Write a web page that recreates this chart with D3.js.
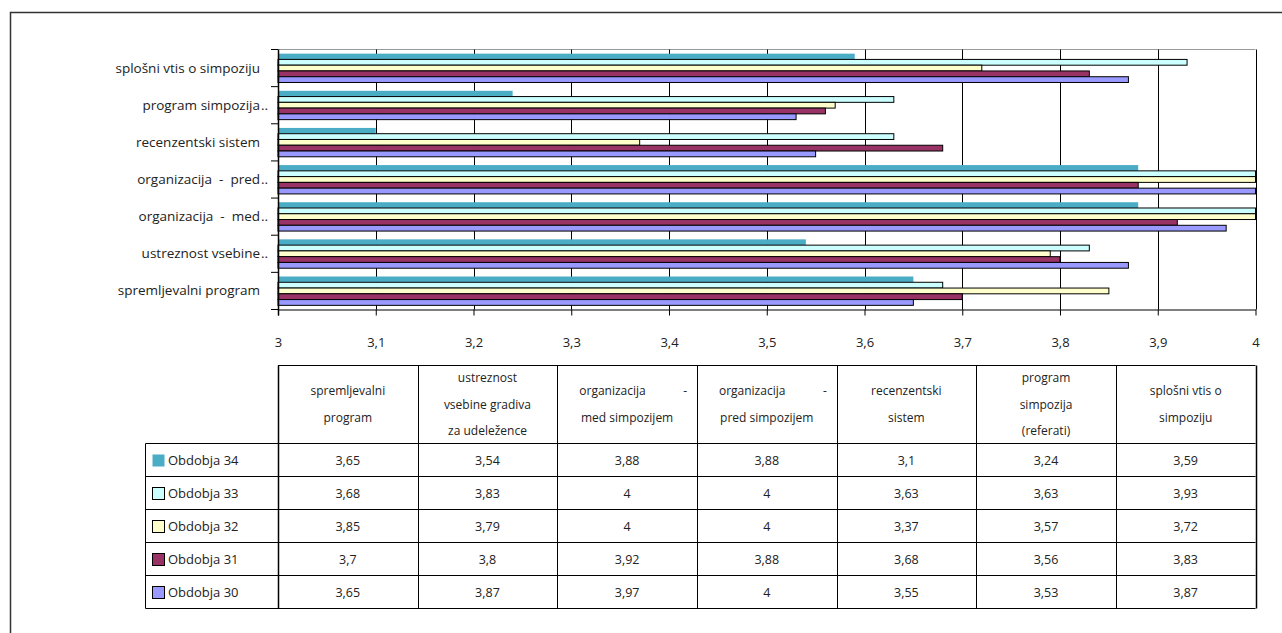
<!DOCTYPE html>
<html>
<head>
<meta charset="utf-8">
<script src="https://cdn.jsdelivr.net/npm/d3@7"></script>
<style>
  body { margin: 0; background: #fff; }
  svg { display: block; font-family: "Open Sans", sans-serif; }
</style>
</head>
<body>
<div id="svg-container"></div>
<script>
// categories in table order (bottom to top in the chart)
const categories = [
  "spremljevalni program",
  "ustreznost vsebine gradiva za udeležence",
  "organizacija - med simpozijem",
  "organizacija - pred simpozijem",
  "recenzentski sistem",
  "program simpozija (referati)",
  "splošni vtis o simpoziju",
];
// short labels on the category axis (text, truncated?)
const axisLabels = [
  ["spremljevalni program", false],
  ["ustreznost vsebine", true],
  ["organizacija  -  med", true],
  ["organizacija  -  pred", true],
  ["recenzentski sistem", false],
  ["program simpozija", true],
  ["splošni vtis o simpoziju", false],
];
// table header lines
const headerLines = [
  ["spremljevalni", "program"],
  ["ustreznost", "vsebine gradiva", "za udeležence"],
  ["organizacija|-", "med simpozijem"],
  ["organizacija|-", "pred simpozijem"],
  ["recenzentski", "sistem"],
  ["program", "simpozija", "(referati)"],
  ["splošni vtis o", "simpoziju"],
];

const seriesNames = ["Obdobja 34", "Obdobja 33", "Obdobja 32", "Obdobja 31", "Obdobja 30"];
const obdobja34 = [3.65, 3.54, 3.88, 3.88, 3.1, 3.24, 3.59];
const obdobja33 = [3.68, 3.83, 4, 4, 3.63, 3.63, 3.93];
const obdobja32 = [3.85, 3.79, 4, 4, 3.37, 3.57, 3.72];
const obdobja31 = [3.7, 3.8, 3.92, 3.88, 3.68, 3.56, 3.83];
const obdobja30 = [3.65, 3.87, 3.97, 4, 3.55, 3.53, 3.87];
const xTicks = [3, 3.1, 3.2, 3.3, 3.4, 3.5, 3.6, 3.7, 3.8, 3.9, 4];

const seriesValues = [obdobja34, obdobja33, obdobja32, obdobja31, obdobja30];
const colors = ["#4bacc6", "#ccffff", "#ffffcc", "#993366", "#9999ff"];
const strokes = ["none", "#000", "#000", "#000", "#000"];

const fmt = (v) => String(v).replace(".", ",");

const width = 1282;
const height = 633;
const plot = { left: 278, right: 1255.5, top: 49.5, bottom: 309.5 };

const svg = d3
  .select("#svg-container")
  .append("svg")
  .attr("width", width)
  .attr("height", height);

// outer frame
svg
  .append("rect")
  .attr("x", 10.5)
  .attr("y", 12.5)
  .attr("width", 1400)
  .attr("height", 800)
  .attr("fill", "none")
  .attr("stroke", "#333")
  .attr("stroke-width", 1.5);

const xScale = d3.scaleLinear().domain([3, 4]).range([plot.left, plot.right]);

// top-to-bottom order is the reverse of the table order
const yScale = d3
  .scaleBand()
  .domain(d3.range(categories.length).reverse())
  .range([plot.top, plot.bottom]);

const inner = d3
  .scaleBand()
  .domain(d3.range(seriesNames.length))
  .range([0, yScale.bandwidth()])
  .paddingOuter(0.72);

// plot top border
svg
  .append("line")
  .attr("x1", plot.left)
  .attr("x2", plot.right)
  .attr("y1", plot.top)
  .attr("y2", plot.top)
  .attr("stroke", "#999");

// gridlines
svg
  .append("g")
  .selectAll("line")
  .data(xTicks.slice(1))
  .join("line")
  .attr("x1", (d) => Math.round(xScale(d)) + 0.5)
  .attr("x2", (d) => Math.round(xScale(d)) + 0.5)
  .attr("y1", plot.top)
  .attr("y2", plot.bottom)
  .attr("stroke", "#000");

// bars
const rows = [];
seriesValues.forEach((vals, s) => {
  vals.forEach((v, c) => rows.push({ s, c, v }));
});

svg
  .append("g")
  .selectAll("rect")
  .data(rows)
  .join("rect")
  .attr("x", plot.left)
  .attr("y", (d) => yScale(d.c) + inner(d.s))
  .attr("width", (d) => xScale(d.v) - plot.left)
  .attr("height", inner.bandwidth())
  .attr("fill", (d) => colors[d.s])
  .attr("stroke", (d) => strokes[d.s])
  .attr("stroke-width", 1);

// x axis
const xAxis = d3
  .axisBottom(xScale)
  .tickValues(xTicks)
  .tickFormat(fmt)
  .tickSize(6)
  .tickSizeOuter(0)
  .tickPadding(22);

svg
  .append("g")
  .attr("transform", `translate(0, ${plot.bottom})`)
  .call(xAxis)
  .call((g) => g.selectAll("line,path").attr("stroke", "#000"))
  .call((g) =>
    g.selectAll("text").attr("fill", "#222").style("font-size", "13px").attr("font-family", "Open Sans")
  );

// y axis with category ticks on band edges
const yAxisG = svg.append("g");
yAxisG
  .append("line")
  .attr("x1", plot.left + 0.5)
  .attr("x2", plot.left + 0.5)
  .attr("y1", plot.top)
  .attr("y2", plot.bottom + 6)
  .attr("stroke", "#000")
  .attr("stroke-width", 1.5);

yAxisG
  .selectAll(".cat-tick")
  .data(d3.range(categories.length + 1))
  .join("line")
  .attr("class", "cat-tick")
  .attr("x1", plot.left - 7)
  .attr("x2", plot.left)
  .attr("y1", (i) => plot.top + i * yScale.step())
  .attr("y2", (i) => plot.top + i * yScale.step())
  .attr("stroke", "#000");

const catLabel = yAxisG
  .selectAll(".cat-label")
  .data(axisLabels)
  .join("g")
  .attr("class", "cat-label")
  .attr("transform", (d, i) => `translate(260, ${yScale(i) + yScale.bandwidth() / 2 + 4.5})`);

catLabel
  .append("text")
  .attr("text-anchor", "end")
  .attr("fill", "#222")
  .style("font-size", "13.5px")
  .style("white-space", "pre")
  .text((d) => d[0]);

catLabel
  .filter((d) => d[1])
  .append("text")
  .attr("x", 1)
  .attr("fill", "#222")
  .style("font-size", "13.5px")
  .text("..");

// data table
const table = {
  left: 145.5,
  colLeft: plot.left,
  top: 365.5,
  headH: 78,
  rowH: 33,
};
const colW = (plot.right - plot.left) / categories.length;
const tableBottom = table.top + table.headH + table.rowH * seriesNames.length;

const tg = svg.append("g").attr("fill", "#222");

// horizontal lines
tg.append("line")
  .attr("x1", table.colLeft)
  .attr("x2", plot.right)
  .attr("y1", table.top)
  .attr("y2", table.top)
  .attr("stroke", "#000");

tg.selectAll(".hline")
  .data(d3.range(seriesNames.length + 1))
  .join("line")
  .attr("class", "hline")
  .attr("x1", table.left)
  .attr("x2", plot.right)
  .attr("y1", (i) => table.top + table.headH + i * table.rowH)
  .attr("y2", (i) => table.top + table.headH + i * table.rowH)
  .attr("stroke", "#000");

// vertical lines
tg.selectAll(".vline")
  .data(d3.range(categories.length + 1))
  .join("line")
  .attr("class", "vline")
  .attr("x1", (i) => Math.round(table.colLeft + i * colW) + 0.5)
  .attr("x2", (i) => Math.round(table.colLeft + i * colW) + 0.5)
  .attr("y1", table.top)
  .attr("y2", tableBottom)
  .attr("stroke", "#000")
  .attr("stroke-width", (i) => (i === 0 || i === categories.length ? 1.5 : 1));

tg.append("line")
  .attr("x1", table.left)
  .attr("x2", table.left)
  .attr("y1", table.top + table.headH)
  .attr("y2", tableBottom)
  .attr("stroke", "#000");

// header text
headerLines.forEach((lines, c) => {
  const x0 = table.colLeft + c * colW;
  const lh = 26.5;
  const cy = table.top + table.headH / 2;
  lines.forEach((ln, k) => {
    const y = cy + (k - (lines.length - 1) / 2) * lh + 4;
    if (ln.includes("|")) {
      const [a, b] = ln.split("|");
      tg.append("text").attr("x", x0 + 22).attr("y", y).style("font-size", "12px").text(a);
      tg.append("text").attr("x", x0 + 126).attr("y", y).style("font-size", "12px").text(b);
    } else {
      tg.append("text")
        .attr("x", x0 + colW / 2)
        .attr("y", y)
        .attr("text-anchor", "middle")
        .style("font-size", "12px")
        .text(ln);
    }
  });
});

// legend column and values
seriesNames.forEach((name, s) => {
  const y0 = table.top + table.headH + s * table.rowH;
  tg.append("rect")
    .attr("x", 152.5)
    .attr("y", y0 + 11)
    .attr("width", 12)
    .attr("height", 12)
    .attr("fill", colors[s])
    .attr("stroke", strokes[s]);
  tg.append("text")
    .attr("x", 168)
    .attr("y", y0 + 21.5)
    .style("font-size", "13px")
    .text(name);

  seriesValues[s].forEach((v, c) => {
    tg.append("text")
      .attr("x", table.colLeft + c * colW + colW / 2)
      .attr("y", y0 + 21.5)
      .attr("text-anchor", "middle")
      .style("font-size", "12.5px")
      .text(fmt(v));
  });
});
</script>
</body>
</html>
